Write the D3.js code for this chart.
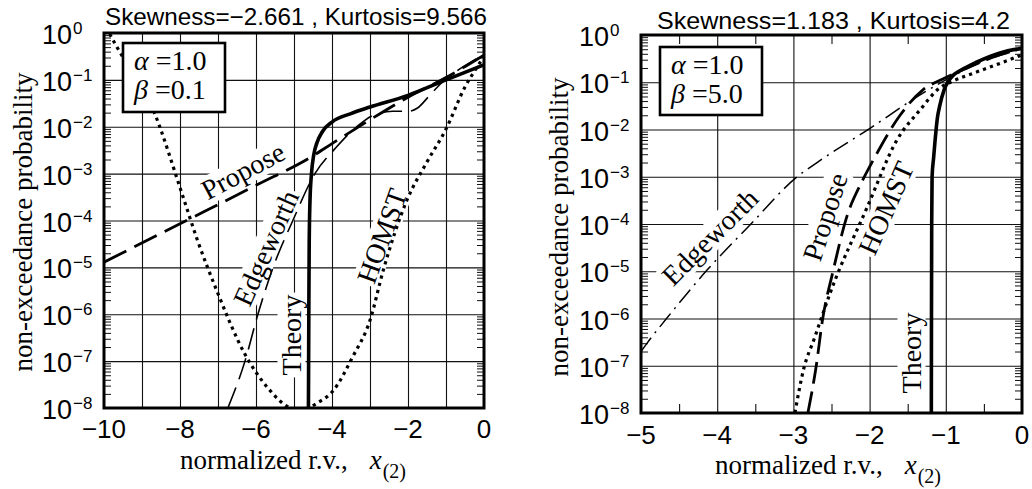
<!DOCTYPE html>
<html><head><meta charset="utf-8">
<script src="https://cdn.jsdelivr.net/npm/d3@7"></script>
<style>body{margin:0;background:#fff}</style>
</head><body>
<svg id="chart" width="1032" height="489" xmlns="http://www.w3.org/2000/svg"></svg>
<script>
// ---------- data ----------
const yTickExps = [0,-1,-2,-3,-4,-5,-6,-7,-8];
const yTickSup  = ["0","\u22121","\u22122","\u22123","\u22124","\u22125","\u22126","\u22127","\u22128"];
const leftXTicks = [-10,-8,-6,-4,-2,0];
const leftXTickLabels = ["\u221210","\u22128","\u22126","\u22124","\u22122","0"];
const leftXGrid = [-9,-8,-7,-6,-5,-4,-3,-2,-1];
const rightXTicks = [-5,-4,-3,-2,-1,0];
const rightXTickLabels = ["\u22125","\u22124","\u22123","\u22122","\u22121","0"];
const rightXGrid = [-4,-3,-2,-1];
const rightXMinor = [-4.5,-3.5,-2.5,-1.5,-0.5];

const leftTitle = "Skewness=\u22122.661 , Kurtosis=9.566";
const rightTitle = "Skewness=1.183 , Kurtosis=4.2";
const leftParams = ["1.0","0.1"];
const rightParams = ["1.0","5.0"];

// Left panel (alpha=1.0, beta=0.1)
const leftTheoryX = [-4.62,-4.61,-4.6,-4.58,-4.54,-4.48,-4.4,-4.25,-4.0,-3.5,-3.0,-2.0,-1.0,0];
const leftTheoryY = [1e-8,1e-6,3.16e-5,2.51e-4,1e-3,2.51e-3,4.47e-3,7.94e-3,1.26e-2,1.91e-2,2.63e-2,4.68e-2,1e-1,2.09e-1];
const leftProposeX = [-10,-8,-6,-4.5,-4,-3,-2,-1,0];
const leftProposeY = [1.29e-5,8.51e-5,5.62e-4,2.40e-3,4.37e-3,1.41e-2,4.27e-2,1.12e-1,3.39e-1];
const leftEdgeX = [-6.74,-6.29,-5.95,-5.55,-5.03,-4.45,-3.9,-3.35,-2.9,-2.4,-2.0,-1.75,-1.45,-1.1,-0.7,-0.2,0];
const leftEdgeY = [1e-8,1e-7,1e-6,1e-5,1e-4,1e-3,3.55e-3,1e-2,1.78e-2,2.14e-2,2.14e-2,2.51e-2,4.47e-2,8.91e-2,0.158,0.282,0.355];
const leftHomstX = [-9.85,-9.66,-8.7,-7.95,-7.55,-7.03,-6.3,-5.7,-5.1,-4.8,-4.4,-3.97,-3.45,-3.0,-2.65,-2.03,-1.5,-1.0,-0.5,-0.2,0];
const leftHomstY = [0.955,0.501,2.24e-2,3.80e-4,3.98e-5,3.16e-6,1.45e-7,2.75e-8,1e-8,8.91e-9,1.26e-8,2.34e-8,1.26e-7,7.41e-7,8.71e-6,2.69e-4,1.78e-3,8.91e-3,7.08e-2,0.178,0.316];

// Right panel (alpha=1.0, beta=5.0)
const rightTheoryX = [-1.19,-1.188,-1.185,-1.18,-1.16,-1.14,-1.11,-1.08,-1.02,-0.94,-0.75,-0.59,-0.29,0];
const rightTheoryY = [1e-8,1e-6,1e-4,1e-3,2.51e-3,6.03e-3,1.78e-2,3.16e-2,7.08e-2,0.120,0.200,0.269,0.417,0.525];
const rightProposeX = [-2.81,-2.7,-2.62,-2.48,-2.3,-2.1,-1.95,-1.6,-1.3,-1.04,-0.72,-0.4,0];
const rightProposeY = [1e-8,1e-7,8.91e-7,1e-5,1.41e-4,7.94e-4,2.29e-3,2.0e-2,6.92e-2,0.117,0.200,0.331,0.525];
const rightEdgeX = [-5,-4.92,-4.66,-4.13,-3.57,-2.95,-2.69,-1.99,-1.3,-1.0,-0.5,0];
const rightEdgeY = [2.0e-7,3.02e-7,1.02e-6,1.07e-5,9.55e-5,1e-3,2.0e-3,1.07e-2,5.89e-2,0.112,0.282,0.501];
const rightHomstX = [-2.98,-2.87,-2.72,-2.52,-2.03,-1.64,-1.34,-1.08,-0.94,-0.59,-0.29,0];
const rightHomstY = [1e-8,7.94e-8,3.98e-7,3.39e-6,2.29e-4,6.03e-3,2.57e-2,7.59e-2,0.1,0.166,0.251,0.380];

// ---------- drawing ----------
const svg = d3.select("#chart");
const SERIF = "'Liberation Serif','Times New Roman',serif";
const SANS = "'Liberation Sans',Arial,Helvetica,sans-serif";

const styles = {
  theory:  {w:3.6, dash:null},
  proposeL:{w:2.8, dash:"25,9"},
  proposeR:{w:2.8, dash:"22,8"},
  edgeL:   {w:1.6, dash:"22,9"},
  edgeR:   {w:1.5, dash:"17,6,2,6"},
  homst:   {w:3.2, dash:"3.2,4.2"}
};

function zip(xs, ys){ return xs.map((v,i)=>[v, ys[i]]); }

function drawPanel(cfg){
  const W = cfg.R - cfg.L, H = cfg.B - cfg.T;
  const x = d3.scaleLinear().domain(cfg.xDomain).range([cfg.L, cfg.R]);
  const y = d3.scaleLog().domain([1e-8, 1]).range([cfg.B, cfg.T]);
  const decades = yTickExps.map(e => Math.pow(10, e));
  const minor = [];
  for (let e = -8; e < 0; e++) for (let k = 2; k <= 9; k++) minor.push(k * Math.pow(10, e));

  const g = svg.append("g");
  svg.append("clipPath").attr("id", cfg.id + "clip").append("rect")
    .attr("x", cfg.L).attr("y", cfg.T).attr("width", W).attr("height", H);

  const strip = a => { a.select(".domain").remove(); a.selectAll("text").remove(); a.selectAll("line").attr("stroke","#111"); };

  // grid
  g.append("g").attr("transform", `translate(${cfg.L},0)`)
    .call(d3.axisLeft(y).tickValues(decades).tickSize(-W).tickFormat(""))
    .call(strip).selectAll("line").attr("stroke-width", 1.1);
  g.append("g").attr("transform", `translate(0,${cfg.B})`)
    .call(d3.axisBottom(x).tickValues(cfg.xGrid).tickSize(-H).tickFormat(""))
    .call(strip).selectAll("line").attr("stroke-width", 1.1);
  // minor y ticks (inward) on both sides
  g.append("g").attr("transform", `translate(${cfg.L},0)`)
    .call(d3.axisLeft(y).tickValues(minor).tickSize(-7).tickFormat(""))
    .call(strip).selectAll("line").attr("stroke-width", 1);
  g.append("g").attr("transform", `translate(${cfg.R},0)`)
    .call(d3.axisRight(y).tickValues(minor).tickSize(-7).tickFormat(""))
    .call(strip).selectAll("line").attr("stroke-width", 1);
  if (cfg.xMinor) {
    g.append("g").attr("transform", `translate(0,${cfg.B})`)
      .call(d3.axisBottom(x).tickValues(cfg.xMinor).tickSize(-9).tickFormat(""))
      .call(strip).selectAll("line").attr("stroke-width", 1.1);
    g.append("g").attr("transform", `translate(0,${cfg.T})`)
      .call(d3.axisTop(x).tickValues(cfg.xMinor).tickSize(-9).tickFormat(""))
      .call(strip).selectAll("line").attr("stroke-width", 1.1);
  }

  // curve labels with white background
  cfg.labels.forEach(lb => {
    const lg = g.append("g").attr("transform", `translate(${lb.cx},${lb.cy}) rotate(${lb.rot})`);
    const t = lg.append("text").attr("text-anchor", "middle").attr("dy", "0.34em")
      .attr("font-family", SERIF).attr("font-size", lb.size || 28).attr("fill", "#000").text(lb.text);
    const bb = t.node().getBBox();
    lg.insert("rect", "text").attr("x", bb.x - 2).attr("y", bb.y + 2).attr("width", bb.width + 4)
      .attr("height", bb.height - 3).attr("fill", "#fff");
  });

  // curves
  const line = d3.line().x(d => x(d[0])).y(d => y(d[1])).curve(d3.curveMonotoneX);
  const cg = g.append("g").attr("clip-path", `url(#${cfg.id}clip)`);
  cfg.series.forEach(s => {
    cg.append("path").datum(s.data).attr("d", line).attr("fill", "none").attr("stroke", "#000")
      .attr("stroke-width", s.style.w).attr("stroke-dasharray", s.style.dash)
      .attr("stroke-linejoin", "round");
  });

  // legend box
  const lb = cfg.legend;
  g.append("rect").attr("x", lb.x).attr("y", lb.y).attr("width", lb.w).attr("height", lb.h)
    .attr("fill", "#fff").attr("stroke", "#000").attr("stroke-width", 2.6);
  const t1 = g.append("text").attr("x", lb.x + 11).attr("y", lb.y + 27)
    .attr("font-family", SERIF).attr("font-size", 28);
  t1.append("tspan").attr("font-style", "italic").text("\u03b1");
  t1.append("tspan").text(" =" + cfg.params[0]);
  const t2 = g.append("text").attr("x", lb.x + 11).attr("y", lb.y + 56)
    .attr("font-family", SERIF).attr("font-size", 28);
  t2.append("tspan").attr("font-style", "italic").text("\u03b2");
  t2.append("tspan").text(" =" + cfg.params[1]);

  // frame
  g.append("rect").attr("x", cfg.L).attr("y", cfg.T).attr("width", W).attr("height", H)
    .attr("fill", "none").attr("stroke", "#000").attr("stroke-width", 3);

  // y tick labels
  yTickExps.forEach((e, i) => {
    const yy = y(Math.pow(10, e));
    g.append("text").attr("x", cfg.L - 32).attr("y", yy + 11).attr("text-anchor", "end")
      .attr("font-family", SANS).attr("font-size", 27).text("10");
    g.append("text").attr("x", cfg.L - 31).attr("y", yy + 1)
      .attr("font-family", SANS).attr("font-size", 17).text(yTickSup[i]);
  });
  // x tick labels
  cfg.xTicks.forEach((v, i) => {
    g.append("text").attr("x", x(v)).attr("y", cfg.B + cfg.tickDy).attr("text-anchor", "middle")
      .attr("font-family", SANS).attr("font-size", 26).text(cfg.xTickLabels[i]);
  });

  // title
  g.append("text").attr("x", cfg.titleX0).attr("y", cfg.titleY)
    .attr("font-family", SANS).attr("font-size", 24)
    .attr("textLength", cfg.titleW).attr("lengthAdjust", "spacingAndGlyphs").text(cfg.title);

  // y axis label
  g.append("text").attr("transform", `translate(${cfg.yLabX},${cfg.yLabY}) rotate(-90)`)
    .attr("text-anchor", "middle").attr("font-family", SERIF).attr("font-size", 27)
    .text("non-exceedance probability");

  // x axis label
  const xl = g.append("text").attr("x", cfg.xLabX).attr("y", cfg.xLabY)
    .attr("font-family", SERIF).attr("font-size", 27);
  xl.append("tspan").text("normalized r.v.,");
  xl.append("tspan").attr("dx", 22).attr("font-style", "italic").text("x");
  xl.append("tspan").attr("dx", 1).attr("dy", 9).attr("font-size", 20).text("(2)");
}

drawPanel({
  id: "L", L: 104, R: 484, T: 33, B: 408, xDomain: [-10, 0], tickDy: 30,
  xGrid: leftXGrid, xTicks: leftXTicks, xTickLabels: leftXTickLabels, xMinor: null,
  title: leftTitle, titleX0: 105, titleW: 382, titleY: 25,
  params: leftParams, legend: {x: 123, y: 43, w: 102, h: 69},
  yLabX: 32, yLabY: 222, xLabX: 180, xLabY: 469,
  labels: [
    {text: "Propose", cx: 243, cy: 171, rot: -28},
    {text: "Edgeworth", cx: 266, cy: 248, rot: -66},
    {text: "Theory", cx: 291, cy: 335, rot: -90},
    {text: "HOMST", cx: 382, cy: 236, rot: -70}
  ],
  series: [
    {data: zip(leftHomstX, leftHomstY), style: styles.homst},
    {data: zip(leftEdgeX, leftEdgeY), style: styles.edgeL},
    {data: zip(leftProposeX, leftProposeY), style: styles.proposeL},
    {data: zip(leftTheoryX, leftTheoryY), style: styles.theory}
  ]
});

drawPanel({
  id: "R", L: 641, R: 1022, T: 35, B: 413, xDomain: [-5, 0], tickDy: 31,
  xGrid: rightXGrid, xTicks: rightXTicks, xTickLabels: rightXTickLabels, xMinor: rightXMinor,
  title: rightTitle, titleX0: 657, titleW: 353, titleY: 29,
  params: rightParams, legend: {x: 660, y: 47, w: 102, h: 68},
  yLabX: 568, yLabY: 227, xLabX: 715, xLabY: 474,
  labels: [
    {text: "Edgeworth", cx: 710, cy: 237, rot: -45},
    {text: "Propose", cx: 825, cy: 217, rot: -72},
    {text: "HOMST", cx: 886, cy: 208, rot: -66},
    {text: "Theory", cx: 911, cy: 353, rot: -90}
  ],
  series: [
    {data: zip(rightEdgeX, rightEdgeY), style: styles.edgeR},
    {data: zip(rightHomstX, rightHomstY), style: styles.homst},
    {data: zip(rightProposeX, rightProposeY), style: styles.proposeR},
    {data: zip(rightTheoryX, rightTheoryY), style: styles.theory}
  ]
});
</script>
</body></html>
